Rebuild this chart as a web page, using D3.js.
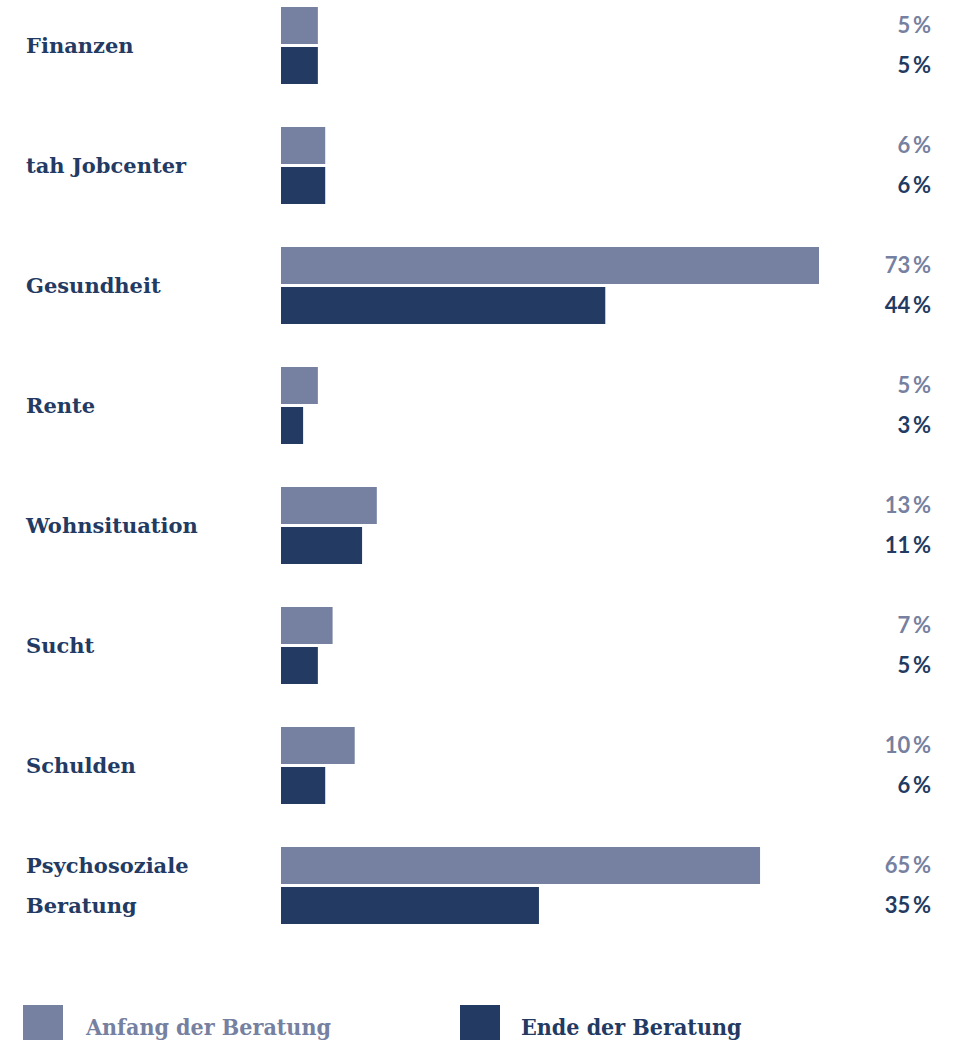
<!DOCTYPE html>
<html lang="de">
<head>
<meta charset="UTF-8">
<title>Beratungsthemen</title>
<script src="https://d3js.org/d3.v7.min.js"></script>
<style>
    body { margin: 0; background: #fff; }
    .cat { font-family: "DejaVu Serif", serif; font-weight: bold; font-size: 21px; fill: #233a63; }
    .val { font-family: Lato, sans-serif; font-weight: bold; font-size: 22px; }
    .leg { font-family: "DejaVu Serif Condensed", "DejaVu Serif", serif; font-weight: bold; font-size: 23px; }
</style>
</head>
<body>
<svg id="chart" width="956" height="1040"></svg>
<script>
    const categories = ["Finanzen", "tah Jobcenter", "Gesundheit", "Rente", "Wohnsituation", "Sucht", "Schulden", "Psychosoziale Beratung"];
    const labelLines = [["Finanzen"], ["tah Jobcenter"], ["Gesundheit"], ["Rente"], ["Wohnsituation"], ["Sucht"], ["Schulden"], ["Psychosoziale", "Beratung"]];
    const anfang = [5, 6, 73, 5, 13, 7, 10, 65];
    const ende = [5, 6, 44, 3, 11, 5, 6, 35];
    const seriesNames = ["Anfang der Beratung", "Ende der Beratung"];
    const colors = ["#7680a0", "#233a63"];

    const svg = d3.select("#chart");

    const x = d3.scaleLinear().domain([0, 100]).range([281, 1018]);
    const y = d3.scaleBand().domain(categories).range([7, 967]);
    const barH = 37, gap = 3;

    const groups = svg.selectAll("g.grp")
        .data(categories)
        .enter().append("g")
        .attr("class", "grp")
        .attr("transform", d => `translate(0,${y(d)})`);

    groups.append("rect")
        .attr("x", x(0))
        .attr("y", 0)
        .attr("width", (d, i) => x(anfang[i]) - x(0))
        .attr("height", barH)
        .attr("fill", colors[0]);

    groups.append("rect")
        .attr("x", x(0))
        .attr("y", barH + gap)
        .attr("width", (d, i) => x(ende[i]) - x(0))
        .attr("height", barH)
        .attr("fill", colors[1]);

    groups.append("text")
        .attr("class", "val")
        .attr("x", 931)
        .attr("y", barH / 2)
        .attr("dy", "0.35em")
        .attr("text-anchor", "end")
        .attr("fill", colors[0])
        .text((d, i) => anfang[i] + "\u2009%");

    groups.append("text")
        .attr("class", "val")
        .attr("x", 931)
        .attr("y", barH + gap + barH / 2)
        .attr("dy", "0.35em")
        .attr("text-anchor", "end")
        .attr("fill", colors[1])
        .text((d, i) => ende[i] + "\u2009%");

    groups.each(function (d, i) {
        const lines = labelLines[i];
        const g = d3.select(this);
        const mid = barH + gap / 2;
        lines.forEach((l, j) => {
            g.append("text")
                .attr("class", "cat")
                .attr("x", 26)
                .attr("y", lines.length === 1 ? mid : barH / 2 + j * (barH + gap))
                .attr("dy", "0.35em")
                .text(l);
        });
    });

    // legend
    const legX = [23, 460];
    seriesNames.forEach((s, i) => {
        svg.append("rect")
            .attr("x", legX[i])
            .attr("y", 1005)
            .attr("width", 40)
            .attr("height", 40)
            .attr("fill", colors[i]);
        svg.append("text")
            .attr("class", "leg")
            .attr("x", legX[i] + (i === 0 ? 63 : 61))
            .attr("y", 1035)
            .attr("fill", colors[i])
            .text(s);
    });
</script>
</body>
</html>
